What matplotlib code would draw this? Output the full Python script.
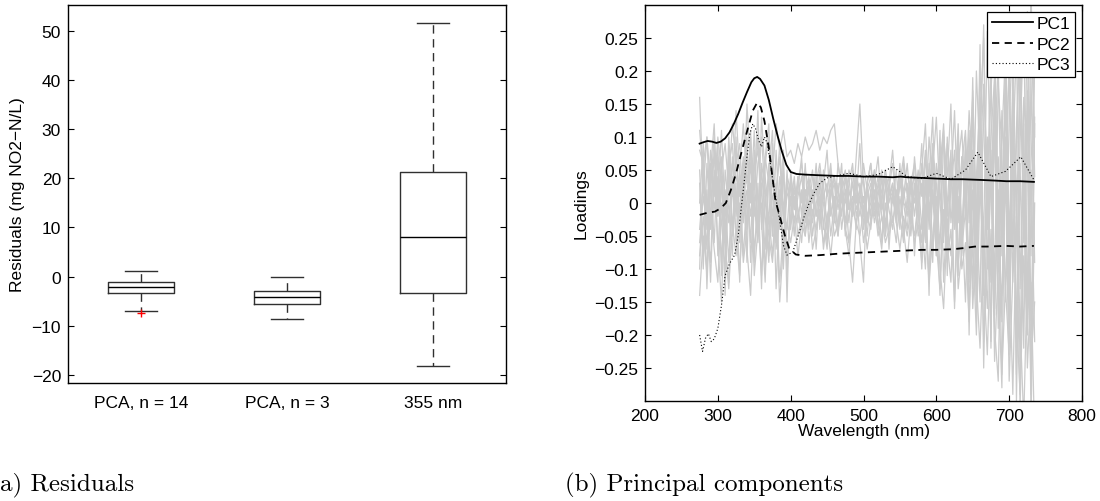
import numpy as np
import matplotlib
matplotlib.use("Agg")
from matplotlib import pyplot as plt
from matplotlib.ticker import FuncFormatter

plt.rcParams["font.family"] = ["Liberation Sans", "DejaVu Sans"]
plt.rcParams["font.size"] = 12.5

# (a) residual box plots, statistics
box_labels = ["PCA, n = 14", "PCA, n = 3", "355 nm"]
box_whislo = [-6.94, -8.64, -18.16]
box_q1 = [-3.40, -5.58, -3.40]
box_med = [-2.04, -4.22, 8.06]
box_q3 = [-1.02, -2.99, 21.27]
box_whishi = [1.22, 0.00, 51.56]
box_fliers = [[-7.28], [], []]

# (b) principal component loadings
pc1_wl = [275, 280, 286, 292, 298, 304, 310, 316, 322, 328, 334, 340, 346, 350,
          354, 358, 364, 370, 376, 382, 388, 394, 400, 408, 420, 440, 463, 480,
          500, 520, 540, 551, 560, 581, 600, 620, 636, 660, 680, 696, 715, 734]
pc1 = [0.090, 0.092, 0.094, 0.093, 0.091, 0.093, 0.098, 0.107, 0.120, 0.135,
       0.152, 0.168, 0.183, 0.189, 0.191, 0.188, 0.178, 0.156, 0.128, 0.102,
       0.078, 0.058, 0.047, 0.044, 0.043, 0.042, 0.041, 0.041, 0.040, 0.040,
       0.039, 0.040, 0.039, 0.038, 0.037, 0.036, 0.036, 0.035, 0.034, 0.033,
       0.033, 0.032]

pc2_wl = [275, 285, 296, 304, 311, 318, 325, 332, 338, 343, 348, 354, 359, 364,
          370, 375, 379, 386, 392, 398, 407, 420, 440, 463, 480, 500, 520, 540,
          559, 580, 600, 623, 640, 653, 670, 696, 715, 734]
pc2 = [-0.018, -0.015, -0.013, -0.008, 0.000, 0.020, 0.045, 0.075, 0.100, 0.120,
       0.140, 0.152, 0.145, 0.124, 0.084, 0.039, 0.004, -0.024, -0.049, -0.069,
       -0.078, -0.080, -0.079, -0.077, -0.076, -0.075, -0.074, -0.073, -0.072,
       -0.071, -0.071, -0.070, -0.068, -0.066, -0.066, -0.065, -0.066, -0.065]

pc3_wl = [275, 279, 283, 287, 291, 295, 300, 305, 310, 316, 323, 328, 332, 336,
          340, 344, 348, 352, 356, 360, 364, 368, 372, 376, 380, 384, 390, 395,
          403, 412, 419, 424, 432, 440, 450, 463, 480, 500, 520, 540, 560, 580,
          600, 620, 640, 657, 675, 695, 716, 734]
pc3 = [-0.200, -0.225, -0.205, -0.198, -0.210, -0.206, -0.190, -0.155, -0.110,
       -0.092, -0.079, -0.049, -0.009, 0.030, 0.070, 0.105, 0.120, 0.112, 0.095,
       0.085, 0.100, 0.090, 0.060, 0.030, 0.005, -0.020, -0.064, -0.079, -0.074,
       -0.044, -0.019, -0.004, 0.015, 0.030, 0.038, 0.041, 0.045, 0.040, 0.043,
       0.055, 0.040, 0.037, 0.045, 0.036, 0.050, 0.077, 0.040, 0.048, 0.070,
       0.035]

# remaining (grey) components, sampled every 5 nm from 275 to 735 nm
grey_wl = np.arange(275, 740, 5)
grey_pcs = [
    [0.16, 0.02, 0.10, -0.03, 0.08, 0.01, 0.11, -0.02, 0.06, 0.09, -0.01,
     0.05, 0.12, 0.03, 0.08, -0.02, 0.06, 0.10, 0.01, 0.04, -0.05, 0.02, 0.07, -0.03, 0.01,
     0.03, -0.01, 0.04, 0.00, 0.05, 0.02, -0.02, 0.03, 0.06, 0.01, -0.03, 0.02, 0.04, -0.01,
     0.03, 0.05, 0.00, -0.02, 0.04, 0.02, -0.01, 0.03, 0.06, 0.01, -0.02, 0.02, 0.05, 0.00,
     0.03, -0.03, 0.04, 0.01, 0.06, -0.01, 0.02, 0.04,
     -0.04, 0.07, 0.01, 0.09, -0.03, 0.05, 0.11, -0.02, 0.06, 0.02, 0.10, -0.05, 0.08,
     0.03, 0.16, -0.06, 0.12, 0.25, -0.04, 0.10, 0.19, -0.09, 0.14, 0.02, 0.22, -0.07,
     0.11, 0.27, -0.05, 0.15, 0.30, 0.04],
    [0.05, -0.08, 0.02, -0.12, 0.04, -0.06, -0.15, 0.01, -0.09, 0.03, -0.05,
     -0.11, 0.02, -0.07, -0.14, 0.00, -0.06, 0.03, -0.10, -0.02, -0.08, 0.01, -0.12, -0.04, -0.07,
     -0.03, 0.01, -0.05, -0.02, 0.02, -0.06, -0.01, -0.04, 0.01, -0.07, -0.02, 0.00, -0.05,
     -0.03, 0.02, -0.04, -0.08, -0.01, -0.03, 0.01, -0.06, -0.02, -0.04, 0.02, -0.03, -0.07,
     0.00, -0.05, -0.02, -0.06, 0.01, -0.04, -0.09, -0.02, -0.05, 0.00,
     -0.08, -0.03, -0.11, 0.02, -0.06, -0.13, -0.01, -0.09, -0.04, -0.15, 0.01, -0.10, -0.06,
     -0.18, 0.02, -0.12, -0.22, -0.05, -0.16, 0.06, -0.24, -0.09, -0.14, 0.04, -0.27, -0.11,
     -0.03, -0.31, -0.08, -0.19, 0.05, -0.21],
    [0.08, 0.06, 0.10, 0.03, 0.07, 0.00, 0.05, 0.09, 0.02, 0.06, 0.04,
     0.01, 0.07, 0.03, -0.02, 0.05, 0.08, 0.02, 0.06, 0.10, 0.04, 0.12, 0.08, 0.11, 0.07,
     0.08, 0.06, 0.09, 0.07, 0.10, 0.08, 0.09, 0.11, 0.08, 0.10, 0.09, 0.11, 0.12,
     0.06, 0.02, 0.04, -0.01, 0.03, 0.00, 0.02, -0.02, 0.01, 0.03, -0.01, 0.02, 0.00, -0.03,
     0.02, 0.01, -0.02, 0.03, 0.00, -0.01, 0.02, 0.04, -0.01,
     0.03, -0.05, 0.06, 0.00, -0.04, 0.08, 0.02, -0.07, 0.05, -0.02, 0.09, -0.06, 0.04,
     -0.10, 0.13, 0.00, -0.15, 0.18, 0.05, -0.12, 0.09, 0.21, -0.08, 0.16, -0.17, 0.07,
     0.24, -0.13, 0.12, -0.20, 0.19, -0.09],
    [-0.08, -0.02, -0.11, 0.04, -0.06, 0.07, -0.03, -0.10, 0.05, -0.04, 0.08,
     -0.02, 0.06, -0.09, 0.10, 0.01, -0.05, 0.13, 0.04, -0.03, 0.09, -0.06, 0.02, -0.10, 0.03,
     0.00, 0.04, -0.03, 0.02, -0.05, 0.03, 0.01, -0.02, 0.05, -0.04, 0.02, 0.06, -0.01,
     0.03, -0.04, 0.01, 0.04, -0.02, 0.07, 0.15, 0.03, -0.03, 0.02, 0.05, -0.01, 0.04,
     -0.05, 0.01, 0.03, -0.02, 0.05, 0.00, -0.04, 0.03, 0.06, -0.03,
     0.06, -0.02, 0.10, 0.03, -0.08, 0.05, 0.12, -0.04, 0.02, 0.08, -0.09, 0.06, 0.11,
     -0.03, 0.19, -0.14, 0.08, 0.27, -0.10, 0.04, 0.15, -0.19, 0.10, 0.23, -0.06, 0.17,
     -0.21, 0.09, 0.28, -0.14, 0.06, 0.20],
    [-0.14, -0.05, -0.10, -0.01, -0.07, -0.12, 0.00, -0.06, -0.13, -0.03, -0.08,
     0.00, -0.09, -0.04, 0.03, -0.07, -0.02, -0.11, 0.01, -0.05, -0.09, -0.01, -0.15, -0.06, -0.03,
     -0.06, -0.02, -0.08, -0.03, -0.05, 0.00, -0.07, -0.04, -0.01, -0.06, -0.03, -0.08,
     -0.02, -0.05, 0.01, -0.04, -0.06, -0.12, -0.03, -0.05, -0.01, -0.07, -0.03, 0.00,
     -0.05, -0.02, -0.06, -0.04, 0.01, -0.03, -0.07, -0.02, -0.05, -0.01, -0.06, -0.03,
     -0.09, -0.02, -0.12, -0.05, 0.01, -0.10, -0.16, -0.03, -0.08, 0.02, -0.13, -0.07, -0.01,
     -0.15, -0.06, -0.20, 0.03, -0.11, -0.23, -0.04, -0.17, 0.02, -0.26, -0.12, -0.07,
     -0.29, -0.02, -0.18, -0.33, -0.10, -0.24, -0.15],
    [0.00, 0.09, -0.04, 0.05, 0.12, -0.02, 0.07, -0.06, 0.10, 0.01, 0.14,
     0.04, -0.03, 0.09, 0.00, 0.11, -0.05, 0.06, 0.02, -0.08, 0.05, 0.01, 0.09, -0.02, 0.04,
     0.02, -0.03, 0.01, 0.04, -0.01, 0.02, 0.05, -0.02, 0.00, 0.03, -0.04, 0.01, 0.04,
     0.00, 0.02, -0.03, 0.03, 0.06, -0.01, 0.01, 0.04, -0.02, 0.00, 0.03, 0.07, -0.01,
     0.02, 0.04, -0.03, 0.01, 0.05, 0.02, -0.02, 0.03, 0.00, 0.05,
     0.01, 0.08, -0.04, 0.05, 0.13, 0.00, -0.06, 0.09, 0.03, 0.14, -0.03, 0.07, 0.01,
     0.11, -0.08, 0.20, 0.06, -0.05, 0.26, 0.02, -0.11, 0.18, 0.08, -0.15, 0.13, 0.25,
     -0.04, 0.21, 0.01, -0.16, 0.32, 0.10],
    [-0.04, 0.03, -0.07, 0.06, -0.01, 0.04, -0.09, 0.02, -0.03, 0.07, -0.06,
     0.05, -0.01, 0.02, -0.06, 0.08, -0.03, 0.00, -0.07, 0.06, -0.02, 0.03, -0.04, 0.05, -0.08,
     -0.02, 0.03, -0.01, -0.04, 0.02, 0.00, -0.03, 0.04, -0.02, 0.01, 0.03, -0.05, 0.00,
     0.02, -0.02, 0.04, -0.01, 0.01, -0.04, 0.03, 0.00, 0.02, -0.03, 0.01, 0.04, -0.02,
     -0.04, 0.02, 0.00, 0.05, -0.03, 0.01, 0.03, -0.05, 0.02, -0.01,
     -0.06, 0.04, -0.01, -0.09, 0.06, 0.02, -0.05, 0.10, -0.03, 0.04, -0.11, 0.07, -0.02,
     0.09, -0.13, 0.04, 0.16, -0.09, 0.02, 0.22, -0.16, 0.07, -0.04, 0.19, -0.20, 0.11,
     0.03, -0.24, 0.16, 0.07, -0.29, 0.13],
    [0.11, 0.04, -0.02, 0.08, 0.01, 0.10, 0.05, -0.04, 0.03, 0.12, 0.06,
     0.09, -0.01, 0.15, 0.05, 0.02, 0.10, -0.04, 0.07, 0.03, 0.01, -0.06, 0.04, 0.00, -0.04,
     0.04, 0.00, 0.03, 0.06, 0.01, -0.02, 0.04, 0.02, -0.03, 0.05, 0.01, 0.03, -0.02,
     0.06, 0.02, 0.00, 0.05, 0.03, -0.02, 0.01, 0.06, 0.02, 0.04, -0.01, 0.03, 0.00,
     0.05, 0.02, 0.06, -0.01, 0.03, 0.07, 0.01, 0.04, -0.02, 0.03,
     0.05, 0.12, -0.02, 0.08, 0.03, -0.07, 0.10, 0.04, 0.15, -0.04, 0.06, 0.11, 0.00,
     0.14, 0.05, -0.09, 0.21, 0.11, -0.02, 0.17, 0.27, -0.07, 0.12, 0.05, 0.20, -0.12,
     0.09, 0.26, -0.03, 0.14, -0.08, 0.22],
    [-0.10, 0.07, -0.13, 0.02, 0.10, -0.08, 0.04, -0.14, 0.08, -0.05, 0.03,
     -0.12, 0.06, -0.04, 0.11, -0.09, 0.03, -0.13, 0.07, 0.12, -0.05, 0.08, -0.03, 0.06, -0.11,
     0.01, -0.05, 0.04, -0.02, 0.06, -0.04, 0.02, -0.07, 0.03, 0.00, -0.06, 0.05, -0.03,
     0.01, 0.06, -0.05, 0.02, -0.01, 0.04, -0.06, -0.12, 0.03, -0.02, 0.05, -0.04, 0.01,
     0.04, -0.07, 0.02, -0.01, 0.06, -0.05, 0.00, 0.04, -0.08, 0.02,
     -0.10, 0.04, -0.14, 0.07, -0.05, 0.11, -0.12, 0.00, 0.08, -0.16, 0.05, -0.08, 0.10,
     -0.20, 0.08, -0.17, 0.14, -0.25, 0.03, -0.21, 0.18, -0.12, -0.28, 0.10, -0.19, 0.21,
     -0.30, 0.06, -0.22, 0.17, -0.33, 0.00],
    [0.03, -0.10, 0.06, -0.04, 0.02, 0.09, -0.11, 0.05, -0.01, -0.08, 0.10,
     -0.06, 0.04, 0.10, -0.09, 0.02, 0.14, -0.03, -0.12, 0.05, 0.11, -0.07, 0.00, 0.08, -0.15,
     0.05, -0.01, 0.02, 0.07, -0.03, 0.04, 0.00, 0.06, -0.04, 0.03, 0.08, -0.02, 0.01,
     -0.05, 0.04, 0.02, -0.03, 0.05, 0.00, 0.09, -0.04, 0.03, 0.06, -0.02, 0.01, 0.05,
     -0.05, 0.03, 0.08, 0.00, -0.04, 0.06, 0.02, -0.03, 0.07, 0.01,
     0.09, -0.06, 0.04, 0.13, -0.08, 0.03, 0.10, -0.11, 0.06, 0.01, 0.12, -0.07, 0.05,
     -0.12, 0.17, -0.05, 0.24, -0.14, 0.10, -0.22, 0.20, 0.01, -0.18, 0.26, -0.09, 0.15,
     -0.26, 0.22, -0.06, 0.29, -0.20, 0.12],
    [-0.06, 0.01, -0.03, -0.09, 0.05, -0.02, 0.03, -0.07, -0.12, 0.04, -0.02,
     0.03, -0.08, 0.01, 0.06, -0.11, -0.04, 0.05, -0.02, -0.09, 0.07, -0.13, 0.01, -0.06, 0.05,
     -0.04, 0.02, -0.01, -0.06, 0.01, 0.03, -0.05, 0.00, 0.02, -0.03, -0.07, 0.01, 0.03,
     -0.04, -0.01, 0.02, -0.06, 0.00, 0.03, -0.02, 0.01, -0.05, 0.02, -0.03, 0.00, -0.06,
     0.03, -0.01, -0.04, 0.02, -0.02, -0.06, 0.01, -0.03, 0.03, -0.05,
     -0.03, -0.10, 0.05, -0.07, -0.01, -0.14, 0.04, -0.06, -0.12, 0.03, -0.09, -0.02, -0.15,
     0.05, -0.16, -0.04, 0.12, -0.21, -0.08, 0.08, -0.19, -0.27, 0.04, -0.13, -0.23, 0.09,
     -0.17, -0.29, 0.02, -0.25, -0.12, -0.36],
]


def minus_fmt(v, pos):
    return ("%g" % round(v, 4)).replace("-", "\u2212")


fig = plt.figure(figsize=(11, 5.02), dpi=100)
W, H = 1100, 502
ax1 = fig.add_axes([68 / W, 1 - 384 / H, (506 - 68) / W, (384 - 6) / H])
ax2 = fig.add_axes([645 / W, 1 - 402 / H, (1082 - 645) / W, (402 - 6) / H])

# ---- (a) residuals
stats = []
for i in range(len(box_labels)):
    stats.append(dict(label=box_labels[i], whislo=box_whislo[i], q1=box_q1[i],
                      med=box_med[i], q3=box_q3[i], whishi=box_whishi[i],
                      fliers=box_fliers[i]))
line_col = "#303030"
ax1.bxp(stats, positions=[1, 2, 3], widths=0.45, capwidths=0.22,
        boxprops=dict(color=line_col, lw=1.0),
        medianprops=dict(color="black", lw=1.0),
        whiskerprops=dict(color=line_col, lw=1.0, linestyle=(0, (6, 4))),
        capprops=dict(color=line_col, lw=1.0),
        flierprops=dict(marker="+", markeredgecolor="red", markersize=6,
                        markeredgewidth=1.0, linestyle="none"))
ax1.set_xlim(0.5, 3.5)
ax1.set_ylim(-21.6, 55.2)
ax1.set_yticks([-20, -10, 0, 10, 20, 30, 40, 50])
ax1.yaxis.set_major_formatter(FuncFormatter(minus_fmt))
ax1.tick_params(axis="y", direction="in", length=4, right=True, width=0.8, pad=5)
ax1.tick_params(axis="x", length=0, pad=9)
ax1.set_ylabel("Residuals (mg NO2\u2212N/L)", labelpad=5)

# ---- (b) loadings
for vals in grey_pcs:
    assert len(vals) == len(grey_wl)
    ax2.plot(grey_wl, vals, color="#cbcbcb", lw=0.9, zorder=1)
ax2.plot(pc1_wl, pc1, color="black", lw=1.3, ls="-", label="PC1", zorder=3)
ax2.plot(pc2_wl, pc2, color="black", lw=1.3, ls=(0, (4, 3)), label="PC2", zorder=3)
ax2.plot(pc3_wl, pc3, color="black", lw=0.8, ls=(0, (1, 2)), label="PC3", zorder=3)
ax2.set_xlim(200, 800)
ax2.set_ylim(-0.3, 0.3)
ax2.set_xticks([200, 300, 400, 500, 600, 700, 800])
ax2.set_yticks([-0.25, -0.2, -0.15, -0.1, -0.05, 0, 0.05, 0.1, 0.15, 0.2, 0.25])
ax2.yaxis.set_major_formatter(FuncFormatter(minus_fmt))
ax2.tick_params(direction="in", length=4, top=True, right=True, width=0.8, pad=5)
ax2.tick_params(axis="x", pad=5)
ax2.set_xlabel("Wavelength (nm)", labelpad=0)
ax2.set_ylabel("Loadings", labelpad=4)
leg = ax2.legend(loc="upper right", fancybox=False, framealpha=1, edgecolor="black",
                 handlelength=2.4, handletextpad=0.2, borderaxespad=0.4,
                 borderpad=0.25, labelspacing=0.3)
leg.get_frame().set_linewidth(0.9)

for ax in (ax1, ax2):
    for sp in ax.spines.values():
        sp.set_linewidth(1.0)

# captions
fig.text(0 / W, 1 - 485 / H, "a) Residuals", family="cmr10", fontsize=18,
         va="center", ha="left")
fig.text(565 / W, 1 - 485 / H, "(b) Principal components", family="cmr10",
         fontsize=18, va="center", ha="left")

fig.savefig("out.png", dpi=100)
